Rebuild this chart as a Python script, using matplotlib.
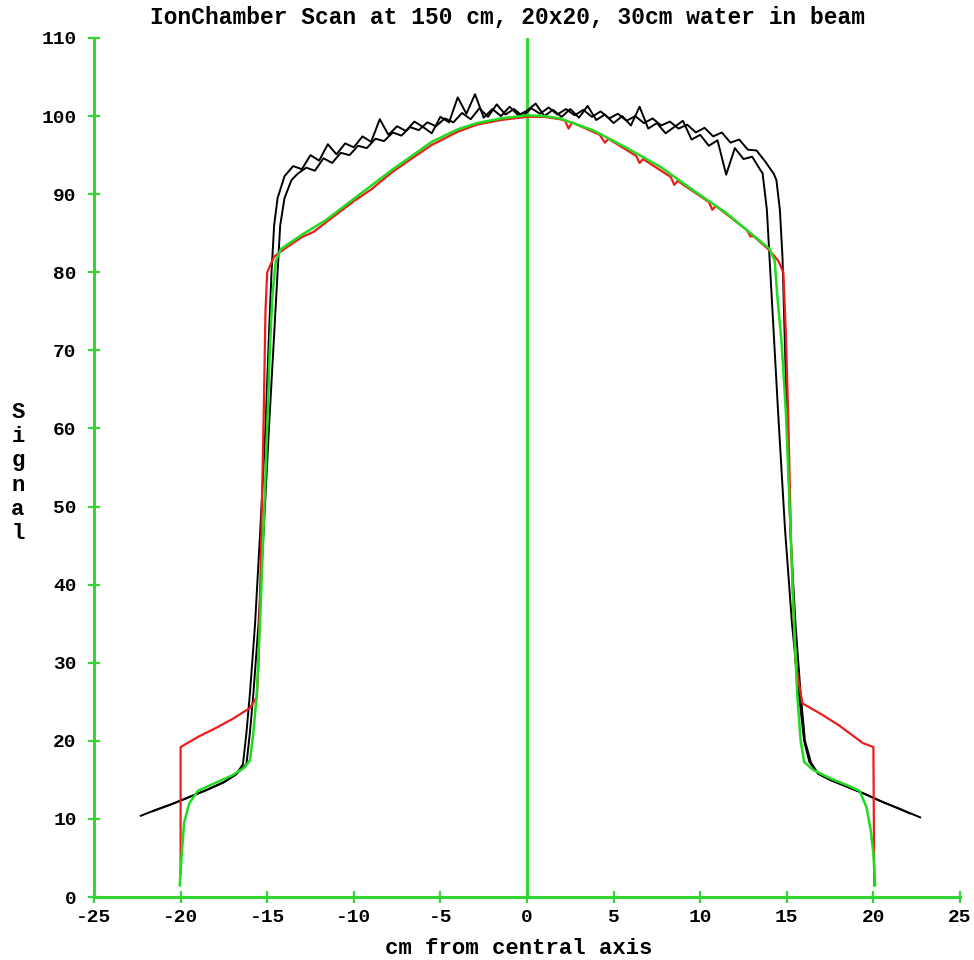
import matplotlib

matplotlib.use("Agg")
import matplotlib.pyplot as plt
import numpy as np

# ---- data ----
x_ticks = [-25, -20, -15, -10, -5, 0, 5, 10, 15, 20, 25]
y_ticks = [0, 10, 20, 30, 40, 50, 60, 70, 80, 90, 100, 110]

# black scan A (shifted slightly left)
blk_a_left_x = [-22.3, -21.5, -20.5, -19.5, -18.5, -17.5, -16.8,
                -16.4, -16.2, -16.0, -15.7, -15.4, -15.1, -14.9, -14.75, -14.6, -14.4, -14.0]
blk_a_left_y = [10.4, 11.1, 11.9, 12.8, 13.7, 14.7, 15.7,
                17.0, 21.0, 26.0, 35.0, 47.0, 60.0, 72.0, 80.0, 86.0, 89.5, 92.3]
blk_a_top_x = [-13.5, -13.0, -12.5, -12.0, -11.5, -11.0, -10.5, -10.0, -9.5, -9.0,
               -8.5, -8.0, -7.5, -7.0, -6.5, -6.0, -5.5, -5.0, -4.5, -4.0,
               -3.5, -3.0, -2.5, -2.0, -1.5, -1.0, -0.5, 0.0, 0.5, 1.0,
               1.5, 2.0, 2.5, 3.0, 3.5, 4.0, 4.5, 5.0, 5.5, 6.0,
               6.5, 7.0, 7.5, 8.0, 8.5, 9.0, 9.5, 10.0, 10.5, 11.0,
               11.5, 12.0, 12.5, 13.0, 13.5]
blk_a_top_y = [93.6, 93.2, 95.0, 94.3, 96.4, 95.1, 96.5, 96.0, 97.4, 96.7,
               99.6, 97.6, 98.7, 98.1, 99.3, 98.6, 97.8, 99.9, 99.2, 102.4,
               100.3, 102.8, 99.8, 100.9, 100.0, 101.2, 100.1, 100.7, 101.6, 100.0,
               100.8, 99.9, 100.9, 99.8, 101.3, 99.5, 100.2, 99.1, 100.0, 98.8,
               101.2, 98.4, 99.1, 97.8, 98.6, 99.4, 97.0, 97.6, 96.2, 96.9,
               92.5, 95.9, 94.5, 94.8, 93.0]
blk_a_right_x = [13.6, 13.85, 14.0, 14.2, 14.5, 14.9, 15.3, 15.7, 16.0, 16.3,
                 16.8, 17.5, 18.5, 19.5, 20.5, 21.5, 22.1]
blk_a_right_y = [92.7, 88.0, 82.0, 74.0, 62.0, 47.0, 35.0, 26.0, 20.0, 17.3,
                 15.8, 15.0, 14.1, 13.2, 12.2, 11.3, 10.7]

# black scan B (shifted slightly right)
blk_b_left_x = [-21.6, -20.5, -19.5, -18.5, -17.5, -16.8,
                -16.2, -16.0, -15.8, -15.5, -15.2, -14.9, -14.6, -14.4, -14.25, -14.0, -13.6]
blk_b_left_y = [11.0, 11.9, 12.8, 13.7, 14.7, 15.7,
                17.0, 21.0, 26.0, 35.0, 47.0, 60.0, 72.0, 80.0, 86.0, 89.5, 91.8]
blk_b_top_x = [-13.25, -12.75, -12.25, -11.75, -11.25, -10.75, -10.25, -9.75, -9.25, -8.75,
               -8.25, -7.75, -7.25, -6.75, -6.25, -5.75, -5.25, -4.75, -4.25, -3.75,
               -3.25, -2.75, -2.25, -1.75, -1.25, -0.75, -0.25, 0.25, 0.75, 1.25,
               1.75, 2.25, 2.75, 3.25, 3.75, 4.25, 4.75, 5.25, 5.75, 6.25,
               6.75, 7.25, 7.75, 8.25, 8.75, 9.25, 9.75, 10.25, 10.75, 11.25,
               11.75, 12.25, 12.75, 13.25, 13.75, 14.25]
blk_b_top_y = [92.6, 93.4, 93.0, 94.6, 94.0, 95.3, 95.0, 96.2, 95.9, 97.1,
               96.8, 97.9, 97.5, 98.6, 98.2, 99.2, 98.7, 99.7, 99.2, 100.4,
               99.6, 101.0, 99.9, 101.5, 100.2, 100.9, 100.0, 101.0, 100.3, 101.1,
               100.2, 100.9, 100.1, 100.8, 99.9, 100.6, 99.7, 100.3, 99.4, 100.0,
               99.1, 99.7, 98.8, 99.3, 98.4, 98.9, 97.9, 98.5, 97.4, 97.9,
               96.6, 97.0, 95.7, 95.6, 94.2, 92.6]
blk_b_right_x = [14.4, 14.6, 14.75, 14.85, 15.0, 15.2, 15.5, 15.8, 16.05, 16.4,
                 16.8, 17.5, 18.5, 19.5, 20.5, 21.5, 22.7]
blk_b_right_y = [91.8, 88.0, 82.0, 74.0, 62.0, 47.0, 35.0, 26.0, 20.0, 17.2,
                 15.8, 15.0, 14.1, 13.2, 12.2, 11.3, 10.2]

# green curve
green_x = [-20.05, -19.95, -19.8, -19.5, -19.0, -18.0, -17.0, -16.3, -16.0, -15.8,
           -15.6, -15.4, -15.2, -15.0, -14.85, -14.7, -14.5, -14.2, -13.0, -11.6,
           -10.0, -7.8, -5.5, -4.0, -2.9, -1.5, 0.0, 1.0, 1.9, 3.8,
           5.7, 7.7, 9.6, 11.5, 13.4, 14.0, 14.3, 14.45, 14.7, 14.95,
           15.2, 15.4, 15.6, 15.8, 16.0, 16.5, 17.5, 18.5, 19.2, 19.6,
           19.85, 20.0, 20.1]
green_y = [1.5, 5.0, 9.5, 12.0, 13.6, 14.6, 15.6, 16.6, 17.5, 21.0,
           26.0, 36.0, 48.0, 60.0, 70.0, 77.0, 81.5, 83.0, 84.8, 86.7,
           89.4, 93.1, 96.7, 98.3, 99.1, 99.7, 100.1, 100.0, 99.7, 98.2,
           96.0, 93.5, 90.5, 87.6, 84.1, 83.0, 81.5, 77.0, 71.0, 62.0,
           48.0, 36.0, 26.0, 20.0, 17.3, 16.3, 15.2, 14.3, 13.6, 11.5,
           8.5, 5.5, 1.5]

# red curve
red_x = [-20.0, -20.0, -19.0, -18.0, -17.0, -16.0, -15.6, -15.5, -15.35, -15.2,
         -15.1, -15.0, -14.6, -14.0, -13.0, -12.3, -11.6, -10.0, -9.0, -7.8,
         -6.5, -5.5, -4.0, -2.9, -1.5, 0.0, 1.0, 1.9, 2.2, 2.4,
         2.6, 4.2, 4.5, 4.7, 6.3, 6.5, 6.7, 8.3, 8.5, 8.7,
         10.5, 10.7, 10.9, 12.7, 12.9, 13.1, 14.0, 14.5, 14.8, 14.95,
         15.1, 15.25, 15.5, 15.9, 17.0, 18.0, 19.4, 20.0, 20.05]
red_y = [3.0, 19.2, 20.5, 21.6, 22.8, 24.2, 25.6, 30.0, 45.0, 62.0,
         75.0, 80.0, 82.0, 83.0, 84.5, 85.2, 86.4, 89.1, 90.6, 92.8,
         94.8, 96.3, 98.0, 98.9, 99.5, 99.9, 99.9, 99.6, 99.4, 98.4,
         99.2, 97.6, 96.6, 97.1, 94.9, 94.0, 94.5, 92.2, 91.2, 91.7,
         89.0, 88.0, 88.5, 85.4, 84.6, 84.6, 82.8, 81.5, 80.0, 72.0,
         60.0, 45.0, 30.0, 24.8, 23.4, 22.0, 19.7, 19.2, 1.5]

AXIS_GREEN = "#33d633"
LINE_GREEN = "#1fdc1f"
RED = "#ee1c1c"
FONT = ["Liberation Mono", "DejaVu Sans Mono"]

fig = plt.figure(figsize=(9.74, 9.60), dpi=100)
ax = fig.add_axes([94 / 974, 63 / 960, 866 / 974, 859 / 960])

blk_a_x = blk_a_left_x + blk_a_top_x + blk_a_right_x
blk_a_y = blk_a_left_y + blk_a_top_y + blk_a_right_y
blk_b_x = blk_b_left_x + blk_b_top_x + blk_b_right_x
blk_b_y = blk_b_left_y + blk_b_top_y + blk_b_right_y

ax.plot(blk_a_x, blk_a_y, color="black", lw=1.4, zorder=3)
ax.plot(blk_b_x, blk_b_y, color="black", lw=1.4, zorder=3)
ax.plot(red_x, red_y, color=RED, lw=1.6, zorder=4)
ax.plot(green_x, green_y, color=LINE_GREEN, lw=1.8, zorder=5)

# central axis line
ax.axvline(0, color=AXIS_GREEN, lw=2.2, zorder=2)

ax.set_xlim(-25, 25)
ax.set_ylim(0, 110)
ax.set_xticks(x_ticks)
ax.set_yticks(y_ticks)
ax.set_xticklabels([str(v) for v in x_ticks])
ax.set_yticklabels([str(v) for v in y_ticks])

for side in ["top", "right"]:
    ax.spines[side].set_visible(False)
for side in ["left", "bottom"]:
    ax.spines[side].set_color(AXIS_GREEN)
    ax.spines[side].set_linewidth(2.2)
    ax.spines[side].set_zorder(6)

ax.tick_params(direction="inout", length=9, width=1.6, color=AXIS_GREEN,
               labelsize=14)
ax.tick_params(axis="x", pad=4)
ax.tick_params(axis="y", pad=8)
for lab in ax.get_xticklabels() + ax.get_yticklabels():
    lab.set_family(FONT)
    lab.set_fontweight("bold")

fig.text(507 / 974, 1 - 18 / 960, "IonChamber Scan at 150 cm, 20x20, 30cm water in beam",
         ha="center", va="center", fontsize=16.5, family=FONT, fontweight="bold")
fig.text(519 / 974, 1 - 948 / 960, "cm from central axis",
         ha="center", va="center", fontsize=16, family=FONT, fontweight="bold")
fig.text(18 / 974, 1 - 473 / 960, "S\ni\ng\nn\na\nl",
         ha="center", va="center", fontsize=16, family=FONT, fontweight="bold",
         linespacing=1.2)

fig.savefig("out.png", dpi=100)
